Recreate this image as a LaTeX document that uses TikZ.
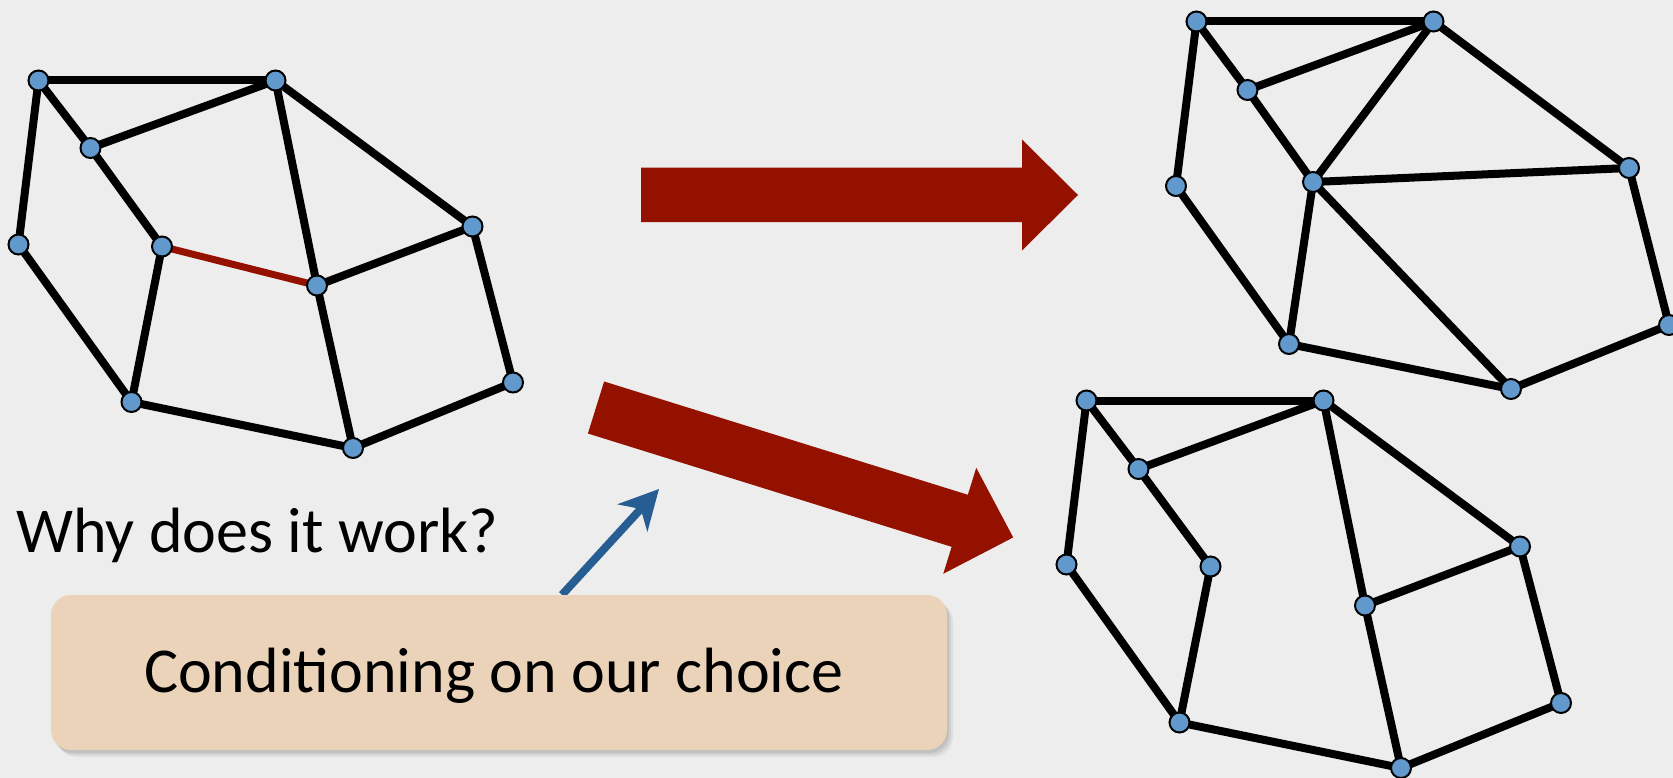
\documentclass[tikz,border=0pt]{standalone}
\usepackage{fontspec}
\setmainfont{Carlito}
\usetikzlibrary{arrows.meta,shadows,backgrounds}

\definecolor{pagebg}{HTML}{EDEDED}
\definecolor{vertexblue}{HTML}{6199CC}
\definecolor{choicered}{HTML}{941100}
\definecolor{pointerblue}{HTML}{265E93}
\definecolor{boxpeach}{HTML}{EAD3B8}

\tikzset{
  vert/.style={circle, draw=black, line width=2pt, fill=vertexblue,
    minimum size=20pt, inner sep=0pt},
  gedge/.style={line width=8pt, draw=black},
  chosen/.style={line width=7pt, draw=choicered},
  bigtext/.style={font=\fontsize{64}{76}\selectfont},
  notebox/.style={rounded corners=20pt, fill=boxpeach,
    minimum width=896pt, minimum height=155pt, inner sep=0pt,
    text height=40pt, text depth=0pt, bigtext,
    drop shadow={shadow xshift=2pt, shadow yshift=-3pt, fill=black, opacity=0.07},
    drop shadow={shadow xshift=4pt, shadow yshift=-5pt, fill=black, opacity=0.07},
    drop shadow={shadow xshift=6pt, shadow yshift=-7pt, fill=black, opacity=0.05}},
  pointer/.style={draw=pointerblue, line width=8pt,
    -{Stealth[length=39pt, width=40pt, inset=12pt]}},
  blockarrow/.pic={
    \fill[choicered] (0,-27.25) -- (381,-27.25) -- (381,-55.5) -- (437,0)
      -- (381,55.5) -- (381,27.25) -- (0,27.25) -- cycle;
  }
}

\begin{document}
\begin{tikzpicture}[x=1pt, y=-1pt]
\useasboundingbox (0,0) rectangle (1673,778);
\begin{scope}[on background layer]
  \fill[pagebg] (0,0) rectangle (1673,778);
\end{scope}

% original graph
\node[vert] (a1) at (38.5,80.5) {};
\node[vert] (a2) at (275.5,80.5) {};
\node[vert] (a3) at (90.5,148) {};
\node[vert] (a4) at (18.5,244.5) {};
\node[vert] (a5) at (162,246.5) {};
\node[vert] (a6) at (317,285.5) {};
\node[vert] (a7) at (472.5,226.5) {};
\node[vert] (a8) at (131.5,402) {};
\node[vert] (a9) at (353,448) {};
\node[vert] (a10) at (513,382.5) {};

% graph after contracting the chosen edge
\node[vert] (b1) at (1196.5,21.5) {};
\node[vert] (b2) at (1433.5,21.5) {};
\node[vert] (b3) at (1247.5,90) {};
\node[vert] (b4) at (1176,186) {};
\node[vert] (b5) at (1313,182) {};
\node[vert] (b6) at (1629,168) {};
\node[vert] (b7) at (1289,344) {};
\node[vert] (b8) at (1511,389) {};
\node[vert] (b9) at (1669,325) {};

% graph after deleting the chosen edge
\node[vert] (c1) at (1086.5,400.5) {};
\node[vert] (c2) at (1323.5,400.5) {};
\node[vert] (c3) at (1138.5,469) {};
\node[vert] (c4) at (1066.5,564.5) {};
\node[vert] (c5) at (1210.5,566.5) {};
\node[vert] (c6) at (1365,605.5) {};
\node[vert] (c7) at (1520,546.5) {};
\node[vert] (c8) at (1179.5,722.5) {};
\node[vert] (c9) at (1401,768) {};
\node[vert] (c10) at (1561,703) {};

\begin{scope}[on background layer]
  \foreach \u/\v in {a1/a2,a1/a3,a1/a4,a3/a2,a3/a5,a2/a6,a2/a7,a6/a7,
                     a4/a8,a5/a8,a6/a9,a8/a9,a7/a10,a10/a9}
    \draw[gedge] (\u.center) -- (\v.center);
  \draw[chosen] (a5.center) -- (a6.center);

  \foreach \u/\v in {b1/b2,b1/b3,b1/b4,b3/b2,b3/b5,b2/b5,b2/b6,b5/b6,
                     b4/b7,b5/b7,b5/b8,b7/b8,b6/b9,b9/b8}
    \draw[gedge] (\u.center) -- (\v.center);

  \foreach \u/\v in {c1/c2,c1/c3,c1/c4,c3/c2,c3/c5,c2/c6,c2/c7,c6/c7,
                     c4/c8,c5/c8,c6/c9,c8/c9,c7/c10,c10/c9}
    \draw[gedge] (\u.center) -- (\v.center);
\end{scope}

% contraction and deletion arrows
\pic at (641,195) {blockarrow};
\pic[rotate=-17.3] at (596,407.5) {blockarrow};

\node[bigtext, anchor=base west, inner sep=0pt] (why) at (16,552) {Why does it work?};

\coordinate (hint) at (659,489);
\node[notebox] (cond) at (499,672.5) {Conditioning on our choice\kern10pt};
\begin{scope}[on background layer]
  \draw[pointer] ([xshift=63pt]cond.north) -- (hint);
\end{scope}
\end{tikzpicture}
\end{document}
